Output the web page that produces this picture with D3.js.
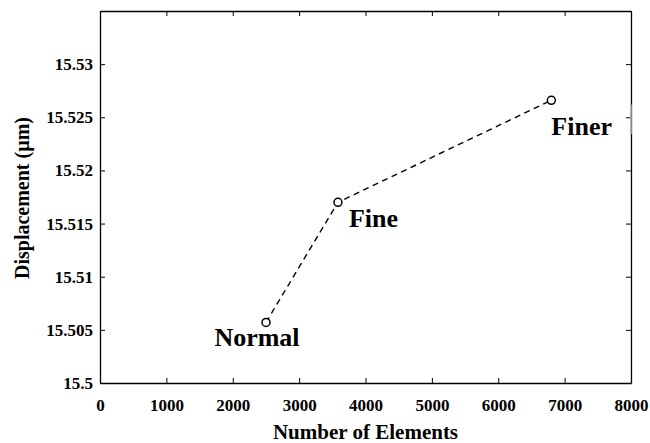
<!DOCTYPE html>
<html>
<head>
<meta charset="utf-8">
<script src="https://cdn.jsdelivr.net/npm/d3@7"></script>
<style>
  body { margin: 0; background: #fff; }
  text { font-family: "Liberation Serif", "Times New Roman", serif; font-weight: bold; fill: #000; }
</style>
</head>
<body>
<div id="chart"></div>
<script>
// Data.
var meshNames    = ["Normal", "Fine", "Finer"];
var elements     = [2501, 3585, 6800];
var displacement = [15.5057, 15.5170, 15.5266];
var xTicks = [0, 1000, 2000, 3000, 4000, 5000, 6000, 7000, 8000];
var yTicks = [15.5, 15.505, 15.51, 15.515, 15.52, 15.525, 15.53];

var width = 650, height = 443;
var margin = {left: 100, right: 19, top: 11, bottom: 60};

var svg = d3.select("#chart").append("svg")
    .attr("width", width)
    .attr("height", height);

var x = d3.scaleLinear().domain([0, 8000]).range([margin.left, width - margin.right]);
var y = d3.scaleLinear().domain([15.5, 15.535]).range([height - margin.bottom, margin.top]);

// Axes: ticks point inward, box on all four sides.
svg.append("g")
    .attr("transform", "translate(0," + y.range()[0] + ")")
    .call(d3.axisBottom(x).tickValues(xTicks).tickSizeInner(-5).tickSizeOuter(0).tickPadding(16).tickFormat(d3.format("d")));
svg.append("g")
    .attr("transform", "translate(0," + y.range()[1] + ")")
    .call(d3.axisTop(x).tickValues(xTicks).tickSizeInner(-5).tickSizeOuter(0).tickFormat(""));
svg.append("g")
    .attr("transform", "translate(" + x.range()[0] + ",0)")
    .call(d3.axisLeft(y).tickValues(yTicks).tickSizeInner(-5).tickSizeOuter(0).tickPadding(7).tickFormat(function(d) { return +d.toFixed(3); }));
svg.append("g")
    .attr("transform", "translate(" + x.range()[1] + ",0)")
    .call(d3.axisRight(y).tickValues(yTicks).tickSizeInner(-5).tickSizeOuter(0).tickFormat(""));

svg.selectAll(".domain").attr("stroke", "#000").attr("stroke-width", 1.3);
svg.selectAll(".tick line").attr("stroke", "#000").attr("stroke-width", 1);
svg.selectAll(".tick text")
    .style("font-family", "'Liberation Serif', serif")
    .style("font-weight", "bold")
    .style("font-size", "17px")
    .attr("fill", "#000");

// Faint patch on the right frame next to "Finer", as in the picture.
svg.append("line")
    .attr("x1", x.range()[1]).attr("x2", x.range()[1])
    .attr("y1", y(15.5262)).attr("y2", y(15.5234))
    .attr("stroke", "#aaa").attr("stroke-width", 1.6);

// Series.
var pts = elements.map(function(e, i) { return {x: e, y: displacement[i], name: meshNames[i]}; });

svg.append("path")
    .datum(pts)
    .attr("fill", "none")
    .attr("stroke", "#000")
    .attr("stroke-width", 1.4)
    .attr("stroke-dasharray", "6,4.5")
    .attr("d", d3.line().x(function(d) { return x(d.x); }).y(function(d) { return y(d.y); }));

svg.selectAll("circle.pt")
    .data(pts).enter().append("circle")
    .attr("class", "pt")
    .attr("cx", function(d) { return x(d.x); })
    .attr("cy", function(d) { return y(d.y); })
    .attr("r", 4)
    .attr("fill", "#fff")
    .attr("stroke", "#000")
    .attr("stroke-width", 1.5);

// Mesh labels beside each point.
var labelOffset = [[-9, 24, "middle"], [11, 25, "start"], [0, 35, "start"]];
svg.selectAll("text.lab")
    .data(pts).enter().append("text")
    .attr("class", "lab")
    .attr("x", function(d, i) { return x(d.x) + labelOffset[i][0]; })
    .attr("y", function(d, i) { return y(d.y) + labelOffset[i][1]; })
    .attr("text-anchor", function(d, i) { return labelOffset[i][2]; })
    .style("font-size", "26px")
    .text(function(d) { return d.name; });

// Axis titles.
svg.append("text")
    .attr("x", (x.range()[0] + x.range()[1]) / 2)
    .attr("y", 439)
    .attr("text-anchor", "middle")
    .style("font-size", "21px")
    .text("Number of Elements");

svg.append("text")
    .attr("transform", "translate(29,198) rotate(-90)")
    .attr("text-anchor", "middle")
    .style("font-size", "20px")
    .text("Displacement (\u00b5m)");
</script>
</body>
</html>
